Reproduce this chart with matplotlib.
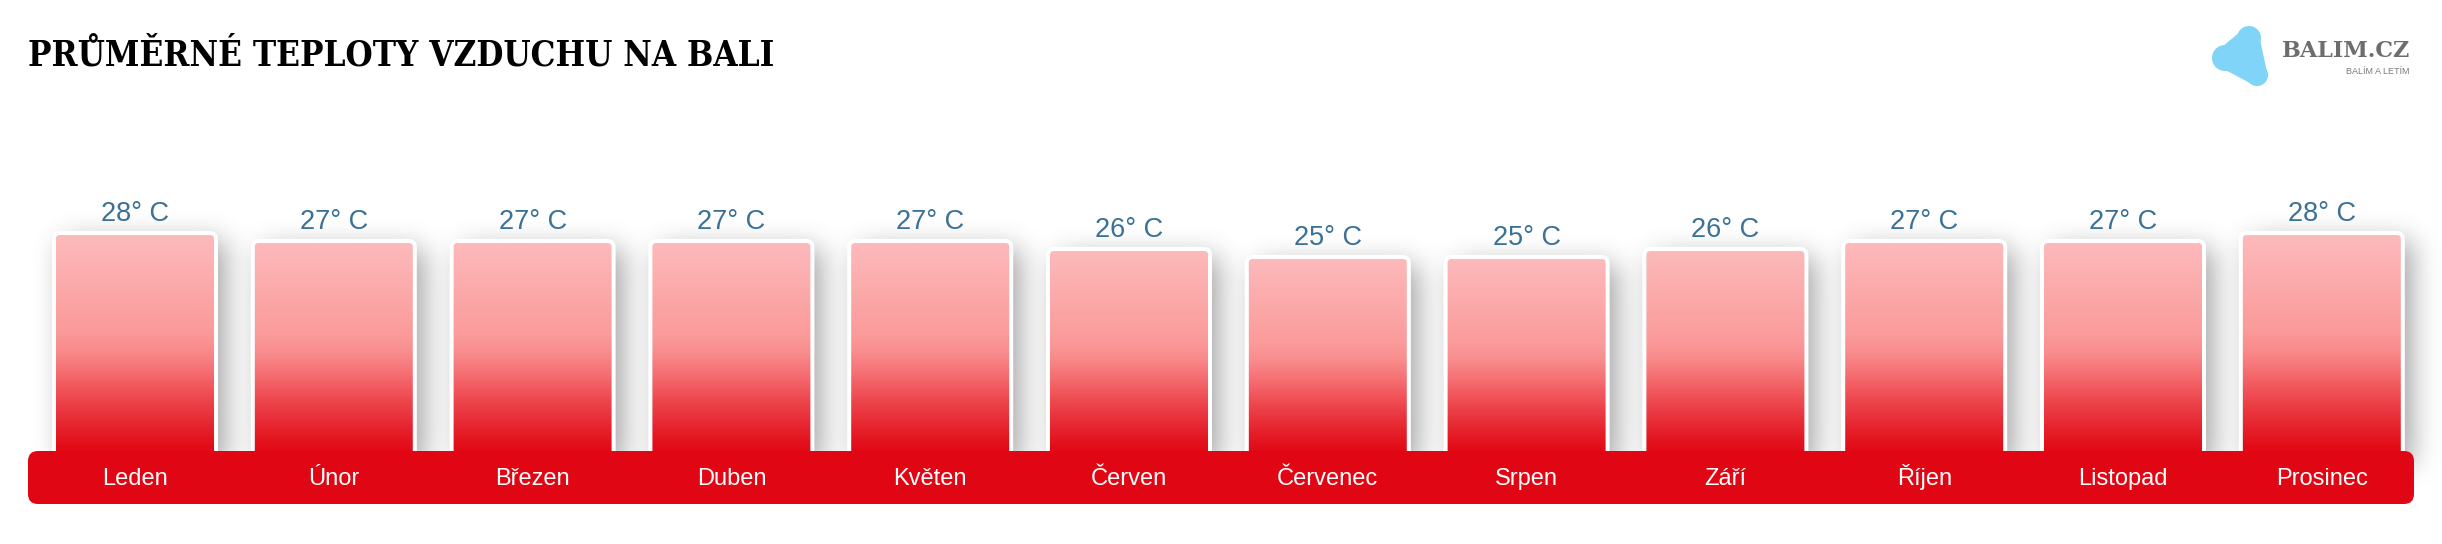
import numpy as np
import matplotlib
matplotlib.use("Agg")
import matplotlib.pyplot as plt
from matplotlib.patches import FancyBboxPatch, Polygon, Circle
from matplotlib.colors import LinearSegmentedColormap
from matplotlib.transforms import IdentityTransform

# ---------------- data ----------------
months = ["Leden", "Únor", "Březen", "Duben", "Květen", "Červen",
          "Červenec", "Srpen", "Září", "Říjen", "Listopad", "Prosinec"]
temps = [28, 27, 27, 27, 27, 26, 25, 25, 26, 27, 27, 28]
value_labels = [f"{t}° C" for t in temps]
title = "PRŮMĚRNÉ TEPLOTY VZDUCHU NA BALI"
logo_name = "BALIM.CZ"
logo_tag = "BALÍM A LETÍM"

# ---------------- layout ----------------
W, H = 2442, 544
DPI = 100
fig = plt.figure(figsize=(W / DPI, H / DPI), dpi=DPI, facecolor="white")

ax_left, ax_right = 28, 2414      # pixel columns
ax_top, ax_bottom = 100, 504      # pixel rows from top
ax = fig.add_axes([ax_left / W, 1 - ax_bottom / H,
                   (ax_right - ax_left) / W, (ax_bottom - ax_top) / H])
ax.patch.set_visible(False)
ax.set_axis_off()

px_per_x = 198.8
px_per_deg = 8.0
x0px = 135.0
y0row = 457.0
xlim = ((ax_left - x0px) / px_per_x, (ax_right - x0px) / px_per_x)
ylim = ((y0row - ax_bottom) / px_per_deg, (y0row - ax_top) / px_per_deg)

x = np.arange(len(months))
bar_w = 0.815
aspect = px_per_x / px_per_deg

grad_cmap = LinearSegmentedColormap.from_list("bar", [
    (0.00, (253/255, 187/255, 188/255)),
    (0.44, (251/255, 154/255, 154/255)),
    (0.52, (249/255, 140/255, 141/255)),
    (0.62, (245/255, 110/255, 113/255)),
    (0.75, (237/255, 68/255, 75/255)),
    (0.88, (229/255, 32/255, 42/255)),
    (0.96, (226/255, 12/255, 23/255)),
    (1.00, (225/255, 8/255, 20/255)),
])
grad = np.linspace(0, 1, 400).reshape(-1, 1)

bars = ax.bar(x, temps, width=bar_w, color="none", edgecolor="none")
for r in bars:
    bx, by, bw, bh = r.get_x(), r.get_y(), r.get_width(), r.get_height()
    p = FancyBboxPatch((bx, by), bw, bh,
                       boxstyle=f"round,pad=0,rounding_size={6 / px_per_x}",
                       mutation_aspect=aspect, facecolor="none",
                       edgecolor="white", linewidth=2.9, zorder=4)
    ax.add_patch(p)
    im = ax.imshow(grad, extent=[bx, bx + bw, by, by + bh], aspect="auto",
                   cmap=grad_cmap, origin="upper", interpolation="bilinear",
                   zorder=3)
    im.set_clip_path(p)

for xi, t, lbl in zip(x, temps, value_labels):
    ax.annotate(lbl, (xi, t), xytext=(0, 8.6), textcoords="offset points",
                ha="center", va="baseline", fontsize=19.5, color="#3a7196",
                family=["Liberation Sans", "DejaVu Sans"], zorder=6)

# bottom band with month names
band_top = (y0row - 451) / px_per_deg
band = FancyBboxPatch((xlim[0], ylim[0]), xlim[1] - xlim[0], band_top - ylim[0],
                      boxstyle=f"round,pad=0,rounding_size={10 / px_per_x}",
                      mutation_aspect=aspect, facecolor="#e10613",
                      edgecolor="none", zorder=5, clip_on=False)
ax.add_patch(band)
lbl_y = (y0row - 485) / px_per_deg
for xi, m in zip(x, months):
    ax.text(xi, lbl_y, m, ha="center", va="baseline", color="white",
            fontsize=17, family=["Liberation Sans", "DejaVu Sans"], zorder=6)

ax.set_xlim(*xlim)
ax.set_ylim(*ylim)

# ---------------- drop shadows (derived from the bars) ----------------
def blur1d(a, sigma, axis):
    rad = int(3 * sigma)
    k = np.exp(-0.5 * (np.arange(-rad, rad + 1) / sigma) ** 2)
    k /= k.sum()
    return np.apply_along_axis(lambda v: np.convolve(v, k, mode="same"), axis, a)

mask = np.zeros((H, W))
dx, dy = 9, 8
for r in bars:
    (px0, py0), (px1, py1) = ax.transData.transform(
        [(r.get_x(), r.get_y()), (r.get_x() + r.get_width(), r.get_y() + r.get_height())])
    r0, r1 = int(round(H - py1)) + dy, int(round(H - py0)) + dy
    c0, c1 = int(round(px0)) + dx, int(round(px1)) + dx
    mask[max(r0, 0):min(r1, H), max(c0, 0):min(c1, W)] = 1.0
sig = 14
mask = blur1d(blur1d(mask, sig, 1), sig, 0)
shadow = np.zeros((H, W, 4))
shadow[..., 3] = np.clip(mask * 0.37, 0, 1)
fig.figimage(shadow, xo=0, yo=0, origin="upper", zorder=-1)

# ---------------- title ----------------
fig.text(28 / W, 1 - 65 / H, title, fontsize=25, family="DejaVu Serif",
         fontweight="bold", fontstretch="condensed", va="baseline", ha="left",
         color="#000000")

# ---------------- logo ----------------
blob_col = "#7fd4f8"
lobes = [((2249, 38), 12), ((2225, 58), 13), ((2257, 75), 11)]
tri = Polygon([(cx, H - cy) for (cx, cy), _ in lobes], closed=True,
              facecolor=blob_col, edgecolor=blob_col, linewidth=15,
              joinstyle="round", transform=IdentityTransform())
fig.patches.append(tri)
for (cx, cy), rad in lobes:
    fig.patches.append(Circle((cx, H - cy), rad, facecolor=blob_col,
                              edgecolor="none", transform=IdentityTransform()))
fig.text(2410 / W, 1 - 57 / H, logo_name, ha="right", va="baseline",
         fontsize=16, family="DejaVu Serif", fontweight="bold", color="#6d6d6d")
fig.text(2410 / W, 1 - 74 / H, logo_tag, ha="right", va="baseline",
         fontsize=6.5, family=["Liberation Sans", "DejaVu Sans"], color="#7a7a7a")

fig.savefig("out.png", dpi=DPI, facecolor="white")
